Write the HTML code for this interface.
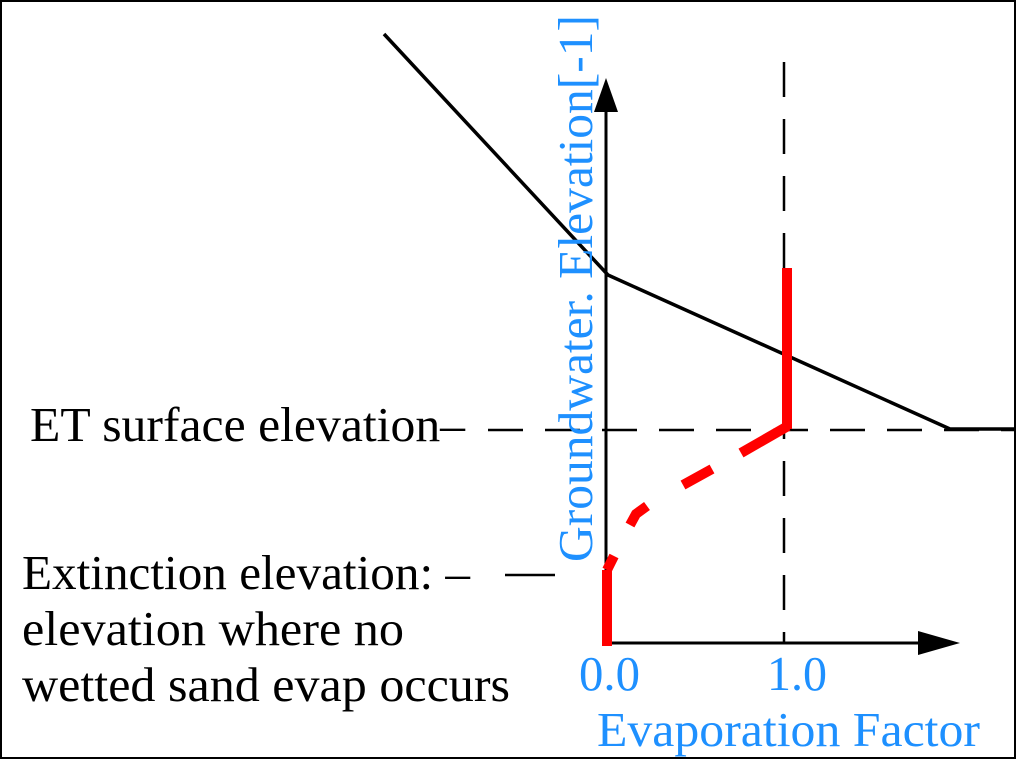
<!DOCTYPE html>
<html><head><meta charset="utf-8"><style>
html,body{margin:0;padding:0;background:#fff}
svg{display:block}
text{font-family:"Liberation Serif",serif;font-size:49px}
</style></head><body>
<svg width="1016" height="759" viewBox="0 0 1016 759" xmlns="http://www.w3.org/2000/svg">
<rect x="1" y="1" width="1014" height="757" fill="#fff" stroke="#000" stroke-width="2"/>
<g stroke="#000" stroke-width="2.5" stroke-dasharray="35,22" fill="none">
<line x1="784" y1="62" x2="784" y2="643"/>
<line x1="488" y1="430" x2="1016" y2="430"/>
</g>
<line x1="505" y1="575" x2="555" y2="575" stroke="#000" stroke-width="2.5"/>
<g stroke="#000" stroke-width="3">
<line x1="606" y1="645" x2="606" y2="108"/>
<line x1="604" y1="643" x2="925" y2="643"/>
</g>
<polygon points="606,78 594,112 618,112" fill="#000"/>
<polygon points="960,643 918,631 918,655" fill="#000"/>
<polyline points="384,34 608,275 950,429 1016,429" fill="none" stroke="#000" stroke-width="3.5"/>
<g stroke="#ff0000" stroke-width="10" fill="none">
<line x1="607" y1="646" x2="607" y2="570"/>
<line x1="787" y1="429" x2="787" y2="268"/>
<path d="M607,570 L614,556"/>
<path d="M630,525 L636,514 L647,506"/>
<path d="M683,485 L712,469"/>
<path d="M741,453 L788,426"/>
</g>
<text x="30" y="441" textLength="435" lengthAdjust="spacingAndGlyphs">ET surface elevation–</text>
<text x="22" y="589" textLength="448" lengthAdjust="spacingAndGlyphs">Extinction elevation: –</text>
<text x="22" y="645" textLength="382" lengthAdjust="spacingAndGlyphs">elevation where no</text>
<text x="22" y="701" textLength="488" lengthAdjust="spacingAndGlyphs">wetted sand evap occurs</text>
<g fill="#1e90ff">
<text x="579" y="690" textLength="61" lengthAdjust="spacingAndGlyphs">0.0</text>
<text x="767" y="690" textLength="60" lengthAdjust="spacingAndGlyphs">1.0</text>
<text x="597" y="746" textLength="383" lengthAdjust="spacingAndGlyphs">Evaporation Factor</text>
<text transform="translate(592,562) rotate(-90)" textLength="547" lengthAdjust="spacingAndGlyphs">Groundwater. Elevation[-1]</text>
</g>
</svg>
</body></html>
